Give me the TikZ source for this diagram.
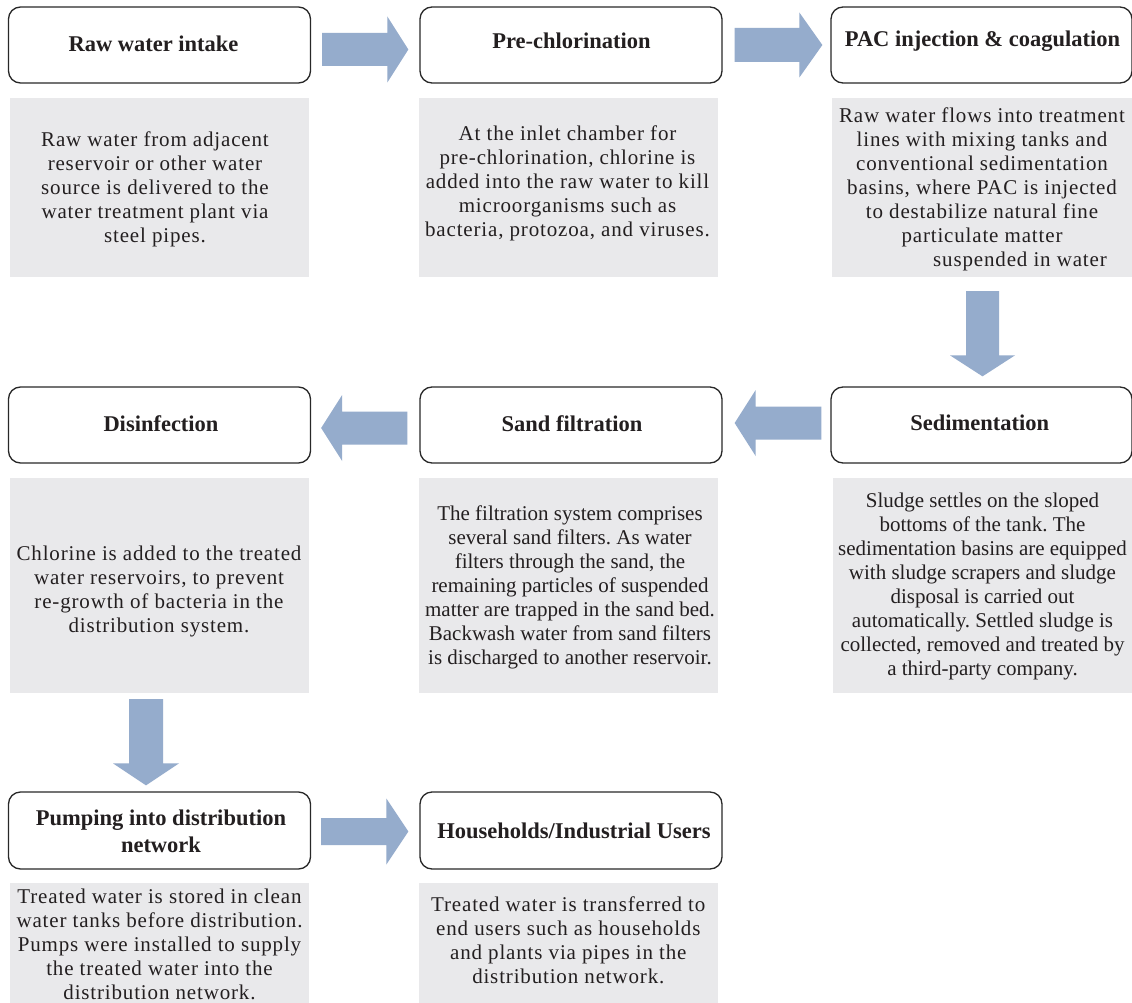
\documentclass[tikz,border=0pt]{standalone}
\usepackage{fontspec}
\setmainfont{Liberation Serif}
\newfontfamily\bodyfam{Liberation Serif}[LetterSpace=4]
\newfontfamily\bodyfamn{Liberation Serif}
\usetikzlibrary{calc}
\frenchspacing
\definecolor{graybg}{RGB}{233,233,235}
\definecolor{arrowc}{RGB}{149,172,204}
\definecolor{boxline}{RGB}{40,40,40}
\definecolor{txt}{RGB}{35,31,32}
\newcommand{\hfnt}{\fontsize{22.5pt}{27pt}\selectfont\bfseries}
\newcommand{\bfnt}{\bodyfam\fontsize{21pt}{24pt}\selectfont}
\newcommand{\bfntn}{\bodyfamn\fontsize{21pt}{24pt}\selectfont}
% horizontal block arrow: #1 start point, #2 tip point, #3 shaft half width, #4 head half width, #5 head length (signed)
\newcommand{\hblockarrow}[5]{%
 \fill[arrowc] let \p1=#1, \p2=#2 in ({\x1},{\y1-#3}) -- ({\x2-(#5)},{\y1-#3}) -- ({\x2-(#5)},{\y1-#4}) -- ({\x2},{\y1}) -- ({\x2-(#5)},{\y1+#4}) -- ({\x2-(#5)},{\y1+#3}) -- ({\x1},{\y1+#3}) -- cycle;}
% vertical (downward) block arrow
\newcommand{\vblockarrow}[5]{%
 \fill[arrowc] let \p1=#1, \p2=#2 in ({\x1-#3},{\y1}) -- ({\x1-#3},{\y2+#5}) -- ({\x1-#4},{\y2+#5}) -- ({\x1},{\y2}) -- ({\x1+#4},{\y2+#5}) -- ({\x1+#3},{\y2+#5}) -- ({\x1+#3},{\y1}) -- cycle;}
\begin{document}
\begin{tikzpicture}[x=1pt,y=-1pt,
  hdrbox/.style={draw=boxline, line width=1.3pt, rounded corners=12pt, fill=white, minimum width=302pt, minimum height=76pt, inner sep=0pt},
  hdrtext/.style={font=\hfnt, text=txt, align=center, inner sep=0pt},
  descbox/.style={fill=graybg, draw=none, inner sep=0pt, minimum width=299pt},
  desctext/.style={font=\bfnt, text=txt, align=center, inner sep=0pt, anchor=north},
  desctextn/.style={desctext, font=\bfntn}]
\useasboundingbox[fill=white] (0,0) rectangle (1132,1003);

% header boxes
\node[hdrbox] (raw) at (159.5,45) {};
\node[hdrbox] (pre) at (571,45) {};
\node[hdrbox, minimum width=301pt] (pac) at (981.5,45) {};
\node[hdrbox, minimum width=301pt] (sed) at (981.5,425) {};
\node[hdrbox] (sand) at (571,425) {};
\node[hdrbox] (dis) at (159.5,425) {};
\node[hdrbox, minimum height=77pt] (pump) at (159.5,830.5) {};
\node[hdrbox, minimum height=77pt] (house) at (571,830.5) {};

% description boxes
\node[descbox, minimum height=179pt] (rawd) at (159.5,187.5) {};
\node[descbox, minimum height=179pt] (pred) at (568.5,187.5) {};
\node[descbox, minimum height=179pt, minimum width=300pt] (pacd) at (982,187.5) {};
\node[descbox, minimum height=215pt] (disd) at (159.5,585.5) {};
\node[descbox, minimum height=215pt] (sandd) at (568.5,585.5) {};
\node[descbox, minimum height=215pt] (sedd) at (982.5,585.5) {};
\node[descbox, minimum height=120pt] (pumpd) at (159.5,943) {};
\node[descbox, minimum height=120pt] (housed) at (568.5,943) {};

% header texts
\node[hdrtext, anchor=base] at (153.5,51.7) {Raw water intake};
\node[hdrtext, anchor=base] at (571.5,48.3) {Pre-chlorination};
\node[hdrtext, anchor=base] at (982.5,46.7) {PAC injection \& coagulation};
\node[hdrtext, anchor=base] at (979.7,430) {Sedimentation};
\node[hdrtext, anchor=base] at (572,431.7) {Sand filtration};
\node[hdrtext, anchor=base] at (161,431.7) {Disinfection};
\node[hdrtext, anchor=north] at (161,809.5) {Pumping into distribution\\network};
\node[hdrtext, anchor=base] at (574,838.3) {Households/Industrial Users};

% description texts
\node[desctext] at (155,131.5) {Raw water from adjacent\\reservoir or other water\\source is delivered to the\\water treatment plant via\\steel pipes.};
\node[desctext] at (567.5,126) {At the inlet chamber for\\pre-chlorination, chlorine is\\added into the raw water to kill\\microorganisms such as\\bacteria, protozoa, and viruses.};
\node[desctext] at (982,108) {Raw water flows into treatment\\lines with mixing tanks and\\conventional sedimentation\\basins, where PAC is injected\\to destabilize natural fine\\particulate matter\\\hspace*{76pt}suspended in water};
\node[desctextn] at (982.5,493) {Sludge settles on the sloped\\bottoms of the tank. The\\sedimentation basins are equipped\\with sludge scrapers and sludge\\disposal is carried out\\automatically. Settled sludge is\\collected, removed and treated by\\a third-party company.};
\node[desctextn] at (570,506) {The filtration system comprises\\several sand filters. As water\\filters through the sand, the\\remaining particles of suspended\\matter are trapped in the sand bed.\\Backwash water from sand filters\\is discharged to another reservoir.};
\node[desctext] at (159,546) {Chlorine is added to the treated\\water reservoirs, to prevent\\re-growth of bacteria in the\\distribution system.};
\node[desctext] at (159.5,888.5) {Treated water is stored in clean\\water tanks before distribution.\\Pumps were installed to supply\\the treated water into the\\distribution network.};
\node[desctext] at (568.3,897) {Treated water is transferred to\\end users such as households\\and plants via pipes in the\\distribution network.};

% block arrows
\hblockarrow{($(raw.east)+(11,4.5)$)}{($(pre.west)+(-11,4.5)$)}{16.5pt}{33pt}{21pt}
\hblockarrow{($(pre.east)+(12,0)$)}{($(pac.west)+(-8,0)$)}{17pt}{32.5pt}{23pt}
\vblockarrow{($(pacd.south)+(0.5,14)$)}{($(sed.north)+(0,-10)$)}{16.5pt}{32.5pt}{21pt}
\hblockarrow{($(sed.west)+(-9,-2)$)}{($(sand.east)+(12,-2)$)}{16.5pt}{33pt}{-21pt}
\hblockarrow{($(sand.west)+(-12,3)$)}{($(dis.east)+(10,3)$)}{16.5pt}{33pt}{-21pt}
\vblockarrow{($(disd.south)+(-13.5,6)$)}{($(pump.north)+(-13.5,-6)$)}{17pt}{33pt}{22pt}
\hblockarrow{($(pump.east)+(10,1)$)}{($(house.west)+(-11,1)$)}{13.5pt}{33pt}{22pt}
\end{tikzpicture}
\end{document}
